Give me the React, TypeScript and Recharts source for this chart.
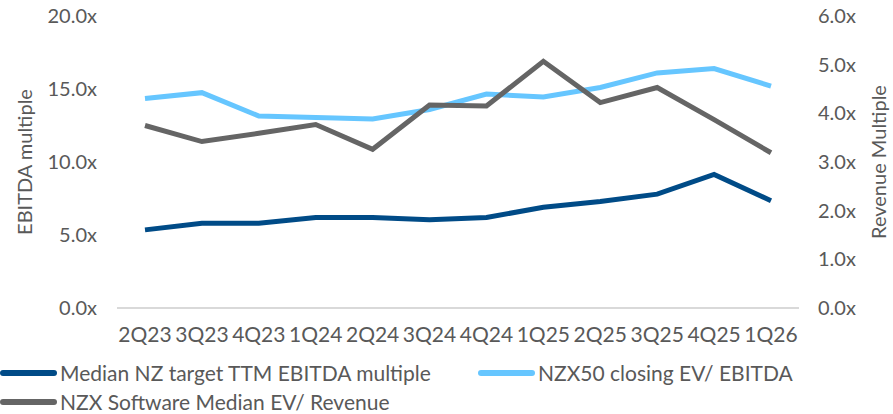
import { LineChart, Line, XAxis, YAxis } from "recharts";

const quarters = ["2Q23", "3Q23", "4Q23", "1Q24", "2Q24", "3Q24", "4Q24", "1Q25", "2Q25", "3Q25", "4Q25", "1Q26"];
const medianTarget = [5.35, 5.8, 5.8, 6.2, 6.2, 6.05, 6.2, 6.9, 7.3, 7.8, 9.15, 7.35];
const nzx50EvEbitda = [14.35, 14.75, 13.15, 13.05, 12.95, 13.6, 14.65, 14.45, 15.1, 16.1, 16.4, 15.2];
const softwareEvRevenue = [3.75, 3.42, 3.59, 3.77, 3.26, 4.17, 4.15, 5.07, 4.22, 4.53, 3.87, 3.19];
const leftTicks = [0, 5, 10, 15, 20];
const rightTicks = [0, 1, 2, 3, 4, 5, 6];

const series = [
  { key: "median", name: "Median NZ target TTM EBITDA multiple", color: "#004B87", axis: "left" },
  { key: "nzx50", name: "NZX50 closing EV/ EBITDA", color: "#66C6FF", axis: "left" },
  { key: "software", name: "NZX Software Median EV/ Revenue", color: "#656565", axis: "right" },
];

const data = quarters.map((q, i) => ({
  quarter: q,
  median: medianTarget[i],
  nzx50: nzx50EvEbitda[i],
  software: softwareEvRevenue[i],
}));

const textColor = "#595959";
const font = "Lato, sans-serif";
const tickStyle = { fontSize: 20, fill: textColor, fontFamily: font };
const fmt = (v: number) => `${v.toFixed(1)}x`;

// legend laid out in two rows like the original, second item sits at a fixed x
function ChartLegend() {
  const items = [
    { s: series[0], left: 0, top: 0 },
    { s: series[1], left: 478, top: 0 },
    { s: series[2], left: 0, top: 29 },
  ];
  return (
    <div style={{ position: "relative", height: 58, marginTop: 6, fontFamily: font, fontSize: 21, lineHeight: "21px", color: textColor }}>
      {items.map(({ s, left, top }) => (
        <div
          key={s.key}
          style={{ position: "absolute", left, top, height: 33, display: "flex", alignItems: "center", whiteSpace: "nowrap" }}
        >
          <div style={{ width: 57, height: 6, borderRadius: 3, background: s.color, marginRight: 3 }} />
          <span>{s.name}</span>
        </div>
      ))}
    </div>
  );
}

export default function App() {
  return (
    <div style={{ position: "absolute", left: 0, top: 0, width: 893, height: 414, background: "#fff" }}>
      <LineChart width={893} height={350} data={data} margin={{ top: 16, right: 0, left: 0, bottom: 0 }}>
        <XAxis
          dataKey="quarter"
          interval={0}
          padding={{ left: 28, right: 28 }}
          tick={{ ...tickStyle, fontSize: 21 }}
          tickLine={false}
          tickSize={0}
          tickMargin={19}
          height={42}
          axisLine={{ stroke: "#D9D9D9", strokeWidth: 2 }}
        />
        <YAxis
          yAxisId="left"
          domain={[0, 20]}
          ticks={leftTicks}
          tickFormatter={fmt}
          tick={tickStyle}
          tickLine={false}
          axisLine={false}
          tickSize={0}
          tickMargin={20}
          width={117}
          label={{
            value: "EBITDA multiple",
            angle: -90,
            position: "insideLeft",
            offset: 25,
            style: { textAnchor: "middle", fontSize: 20, fill: textColor, fontFamily: font },
          }}
        />
        <YAxis
          yAxisId="right"
          orientation="right"
          domain={[0, 6]}
          ticks={rightTicks}
          tickFormatter={fmt}
          tick={tickStyle}
          tickLine={false}
          axisLine={false}
          tickSize={0}
          tickMargin={19}
          width={94}
          label={{
            value: "Revenue Multiple",
            angle: -90,
            position: "insideRight",
            offset: 14,
            style: { textAnchor: "middle", fontSize: 20, fill: textColor, fontFamily: font },
          }}
        />
        {series.map((s) => (
          <Line
            key={s.key}
            yAxisId={s.axis}
            dataKey={s.key}
            name={s.name}
            stroke={s.color}
            strokeWidth={5}
            dot={false}
            activeDot={false}
            type="linear"
            isAnimationActive={false}
          />
        ))}
      </LineChart>
      <ChartLegend />
    </div>
  );
}
